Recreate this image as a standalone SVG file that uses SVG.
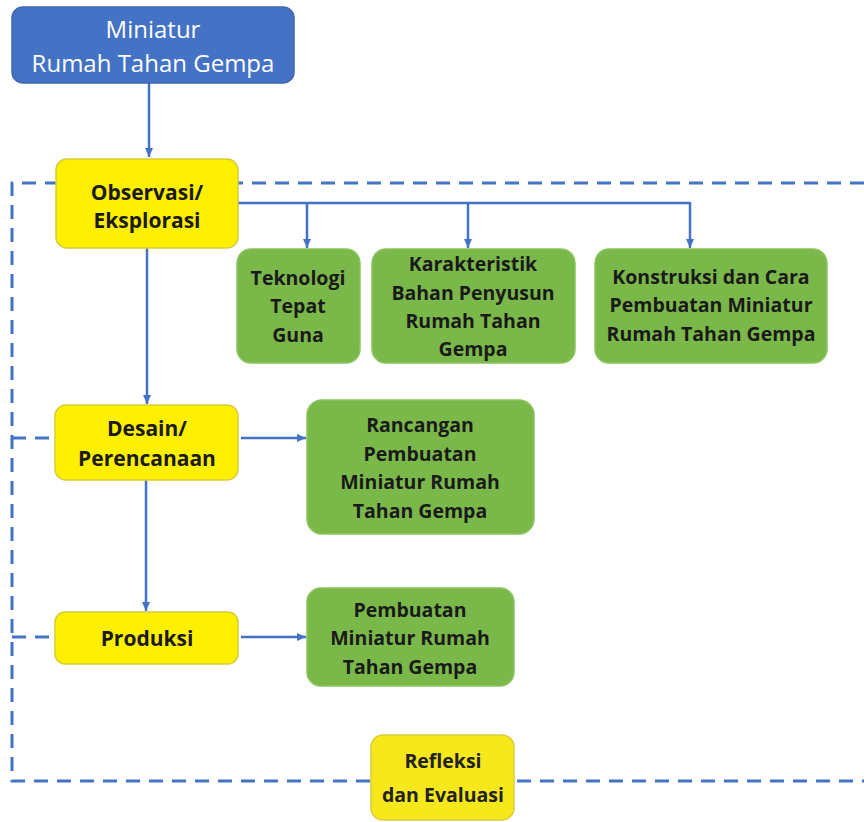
<svg xmlns="http://www.w3.org/2000/svg" width="864" height="822" viewBox="0 0 864 822">
<defs>
<marker id="ah" markerWidth="10" markerHeight="10" refX="9" refY="5" orient="auto" markerUnits="userSpaceOnUse">
<path d="M0,1 L9,5 L0,9 Z" fill="#4472C4"/>
</marker>
<style>
.conn{fill:none;stroke:#4472C4;stroke-width:2.5}
.dash{fill:none;stroke:#4472C4;stroke-width:3;stroke-dasharray:14 9}
.blue{fill:#4472C4;stroke:#3D67B3;stroke-width:1.5}
.yel{fill:#FFF000;stroke:#D8CB3A;stroke-width:1.5}
.grn{fill:#7AB84A;stroke:#8BC45E;stroke-width:1.5}
.tw{font-family:"Open Sans","Noto Sans",sans-serif;font-size:24px;fill:#FFFFFF;text-anchor:middle}
.tb{font-family:"Open Sans","Noto Sans",sans-serif;font-size:19.5px;font-weight:bold;fill:#1A1A1A;text-anchor:middle}
.ty{font-size:21px}
</style>
</defs>
<rect width="864" height="822" fill="#FFFFFF"/>
<g id="connectors">
<path class="dash" d="M864,183 L12,183 L12,781 L864,781"/>
<path class="dash" d="M12,438 L56,438"/>
<path class="dash" d="M12,637 L56,637"/>
<path class="conn" d="M149,83 L149,157" marker-end="url(#ah)"/>
<path class="conn" d="M147,248 L147,404" marker-end="url(#ah)"/>
<path class="conn" d="M146,480 L146,611" marker-end="url(#ah)"/>
<path class="conn" d="M238,203 L690,203"/>
<path class="conn" d="M307,203 L307,248" marker-end="url(#ah)"/>
<path class="conn" d="M468,203 L468,248" marker-end="url(#ah)"/>
<path class="conn" d="M690,202 L690,248" marker-end="url(#ah)"/>
<path class="conn" d="M241,438 L306,438" marker-end="url(#ah)"/>
<path class="conn" d="M241,637 L306,637" marker-end="url(#ah)"/>
</g>
<g id="n-miniatur">
<rect class="blue" x="12" y="7" width="282" height="76" rx="11"/>
<text class="tw" x="153" y="38">Miniatur</text>
<text class="tw" x="153" y="72">Rumah Tahan Gempa</text>
</g>
<g id="n-observasi">
<rect class="yel" x="56" y="159" width="182" height="89" rx="11"/>
<text class="tb ty" x="147" y="200">Observasi/</text>
<text class="tb ty" x="147" y="228">Eksplorasi</text>
</g>
<g id="n-teknologi">
<rect class="grn" x="237" y="249" width="123" height="114" rx="14"/>
<text class="tb" x="298" y="285">Teknologi</text>
<text class="tb" x="298" y="313">Tepat</text>
<text class="tb" x="298" y="342">Guna</text>
</g>
<g id="n-karakteristik">
<rect class="grn" x="372" y="249" width="203" height="114" rx="14"/>
<text class="tb" x="473" y="271">Karakteristik</text>
<text class="tb" x="473" y="300">Bahan Penyusun</text>
<text class="tb" x="473" y="328">Rumah Tahan</text>
<text class="tb" x="473" y="356">Gempa</text>
</g>
<g id="n-konstruksi">
<rect class="grn" x="595" y="249" width="232" height="114" rx="14"/>
<text class="tb" x="711" y="284">Konstruksi dan Cara</text>
<text class="tb" x="711" y="312">Pembuatan Miniatur</text>
<text class="tb" x="711" y="341">Rumah Tahan Gempa</text>
</g>
<g id="n-desain">
<rect class="yel" x="55" y="405" width="183" height="75" rx="11"/>
<text class="tb ty" x="147" y="436">Desain/</text>
<text class="tb ty" x="147" y="466">Perencanaan</text>
</g>
<g id="n-rancangan">
<rect class="grn" x="307" y="400" width="227" height="134" rx="15"/>
<text class="tb" x="420" y="432">Rancangan</text>
<text class="tb" x="420" y="461">Pembuatan</text>
<text class="tb" x="420" y="489">Miniatur Rumah</text>
<text class="tb" x="420" y="518">Tahan Gempa</text>
</g>
<g id="n-produksi">
<rect class="yel" x="55" y="612" width="183" height="52" rx="10"/>
<text class="tb ty" x="147" y="646">Produksi</text>
</g>
<g id="n-pembuatan">
<rect class="grn" x="307" y="588" width="207" height="98" rx="14"/>
<text class="tb" x="410" y="617">Pembuatan</text>
<text class="tb" x="410" y="645">Miniatur Rumah</text>
<text class="tb" x="410" y="674">Tahan Gempa</text>
</g>
<g id="n-refleksi">
<rect class="yel" x="371" y="735" width="143" height="85" rx="12" style="fill:#F7E81C"/>
<text class="tb" x="443" y="768" style="fill:#222222">Refleksi</text>
<text class="tb" x="443" y="802" style="fill:#222222">dan Evaluasi</text>
</g>
</svg>
